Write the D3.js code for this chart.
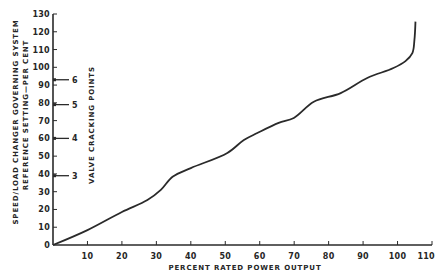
<!DOCTYPE html>
<html>
<head>
<meta charset="utf-8">
<script src="https://cdn.jsdelivr.net/npm/d3@7"></script>
<style>
  body { margin: 0; background: #fff; }
  svg text { font-family: "DejaVu Sans", "Liberation Sans", sans-serif; font-weight: bold; fill: #262626; }
</style>
</head>
<body>
<div id="chart"></div>
<script>
// power output (%) vs reference setting (%)
const powerOut = [0, 10, 20, 27.4, 31.3, 34.7, 40, 50.6, 55.4, 59.3, 65.5, 69.9, 75.7, 83.5, 91.2, 98.8, 102.3, 104.3, 104.9, 105.2];
const refSetting = [0, 8.4, 18.6, 25.3, 31, 38.4, 43.3, 51.8, 59.1, 63, 68.7, 71.5, 80.6, 85.5, 94, 99.6, 103.5, 108, 115.4, 125.7];

const valveLabels = ["3", "4", "5", "6"];
const valvePoints = [39, 60, 79, 93];

const xTicks = [10, 20, 30, 40, 50, 60, 70, 80, 90, 100, 110];
const yTicks = [0, 10, 20, 30, 40, 50, 60, 70, 80, 90, 100, 110, 120, 130];

const width = 436, height = 274;
const x = d3.scaleLinear().domain([0, 110]).range([53, 432]);
const y = d3.scaleLinear().domain([0, 130]).range([245, 14]);

const svg = d3.select("#chart").append("svg")
  .attr("width", width)
  .attr("height", height);

const ink = "#2a2a2a";

svg.append("line")
  .attr("x1", x(0)).attr("x2", x(0))
  .attr("y1", y(0)).attr("y2", y(130))
  .attr("stroke", ink).attr("stroke-width", 1.6);
svg.append("line")
  .attr("x1", x(0)).attr("x2", x(110))
  .attr("y1", y(0)).attr("y2", y(0))
  .attr("stroke", ink).attr("stroke-width", 1.6);

svg.selectAll(".ytick").data(yTicks.filter(d => d > 0)).enter().append("line")
  .attr("x1", x(0)).attr("x2", x(0) + 4)
  .attr("y1", d => y(d)).attr("y2", d => y(d))
  .attr("stroke", ink).attr("stroke-width", 1);

svg.selectAll(".ylab").data(yTicks).enter().append("text")
  .attr("x", x(0) - 3)
  .attr("y", d => y(d) + 3)
  .attr("text-anchor", "end")
  .attr("font-size", 8)
  .attr("letter-spacing", 0.3)
  .text(d => d);

svg.selectAll(".xtick").data(xTicks).enter().append("line")
  .attr("x1", d => x(d)).attr("x2", d => x(d))
  .attr("y1", y(0)).attr("y2", y(0) - 4)
  .attr("stroke", ink).attr("stroke-width", 1);

svg.selectAll(".xlab").data(xTicks).enter().append("text")
  .attr("x", d => d === 110 ? width - 1 : x(d))
  .attr("y", 259)
  .attr("text-anchor", d => d === 110 ? "end" : "middle")
  .attr("font-size", 8)
  .attr("letter-spacing", 0.3)
  .text(d => d);

svg.append("text")
  .attr("x", 245).attr("y", 270)
  .attr("text-anchor", "middle")
  .attr("font-size", 7)
  .attr("letter-spacing", 0.9)
  .text("PERCENT RATED POWER OUTPUT");

svg.append("text")
  .attr("transform", "translate(18,122) rotate(-90)")
  .attr("text-anchor", "middle")
  .attr("font-size", 7)
  .attr("letter-spacing", 0.9)
  .text("SPEED/LOAD CHANGER GOVERNING SYSTEM");
svg.append("text")
  .attr("transform", "translate(28,115) rotate(-90)")
  .attr("text-anchor", "middle")
  .attr("font-size", 7)
  .attr("letter-spacing", 0.9)
  .text("REFERENCE SETTING\u2014PER CENT");

svg.append("text")
  .attr("transform", "translate(94,125) rotate(-90)")
  .attr("text-anchor", "middle")
  .attr("font-size", 7)
  .attr("letter-spacing", 0.9)
  .text("VALVE CRACKING POINTS");

// valve cracking markers
const valves = valvePoints.map((v, i) => ({ v, label: valveLabels[i] }));
svg.selectAll(".vline").data(valves).enter().append("line")
  .attr("x1", x(0)).attr("x2", x(0) + 16)
  .attr("y1", d => y(d.v)).attr("y2", d => y(d.v))
  .attr("stroke", ink).attr("stroke-width", 1.3);
svg.selectAll(".vdot").data(valves).enter().append("rect")
  .attr("x", x(0)).attr("y", d => y(d.v) - 1.5)
  .attr("width", 3).attr("height", 3)
  .attr("fill", ink);
svg.selectAll(".vlab").data(valves).enter().append("text")
  .attr("x", x(0) + 19)
  .attr("y", d => y(d.v) + 3)
  .attr("font-size", 8)
  .text(d => d.label);

// curve
const pts = powerOut.map((p, i) => [p, refSetting[i]]);
const line = d3.line()
  .x(d => x(d[0]))
  .y(d => y(d[1]))
  .curve(d3.curveCatmullRom.alpha(0.5));

svg.append("path")
  .datum(pts)
  .attr("d", line)
  .attr("fill", "none")
  .attr("stroke", ink)
  .attr("stroke-width", 1.8);
</script>
</body>
</html>
